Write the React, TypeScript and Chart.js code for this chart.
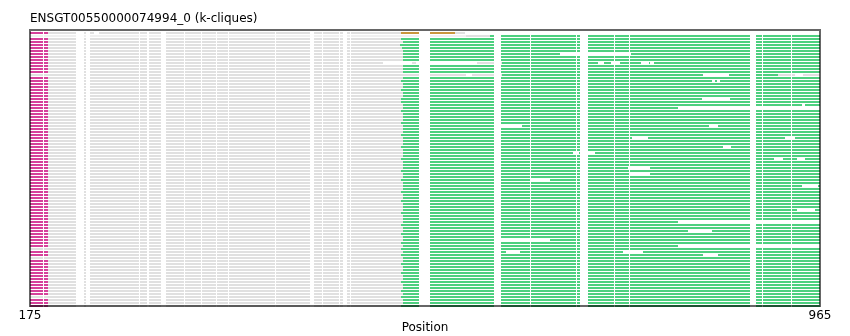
import { useEffect, useRef } from "react";
import { Chart, registerables } from "chart.js";

Chart.register(...registerables);

const TITLE = "ENSGT00550000074994_0 (k-cliques)";
const X_TITLE = "Position";
const X_MIN = 175;
const X_MAX = 965;
const X_TICKS = [175, 965];

const ROW_COUNT = 92;
const ROW_LABELS = Array.from({ length: ROW_COUNT }, (_, i) => `seq${i + 1}`);

const MAGENTA_SPAN = [175, 193];
const NO_MAGENTA_ROWS = [1, 14, 72, 75, 88];
const ORANGE_ROWS = [0];
const ORANGE_SEGS = [[0, 546, 600]];
const LIGHT_SEGS = [[1, 175, 611]];
const GREY_START_OVERRIDE = [[1, 611]];
const GREY_TAIL_SEGS = [
  [0, 600, 610],
  [14, 923, 965],
];
const GREEN_END_OVERRIDE = [
  [14, 923],
  [25, 823],
  [63, 823],
  [71, 823],
];

const GREEN_START = [
  546, 635, 546, 548, 545, 547, 548, 548, 548, 548, 647, 548, 548, 548, 647, 548,
  546, 548, 548, 546, 548, 548, 546, 546, 548, 548, 546, 548, 548, 548, 546, 548,
  548, 548, 546, 548, 548, 548, 546, 548, 548, 548, 546, 548, 548, 548, 546, 548,
  548, 546, 548, 548, 548, 546, 548, 548, 546, 548, 548, 548, 546, 548, 548, 548,
  546, 548, 548, 546, 548, 548, 546, 548, 546, 548, 546, 548, 548, 546, 548, 548,
  546, 548, 548, 546, 548, 548, 546, 548, 546, 548, 548, 546,
];

// alignment gaps shared by all rows
const COMMON_GAPS = [
  [188, 189],
  [221, 229], [231, 235], [284, 285], [292, 294], [306, 311], [329, 330],
  [346, 347], [361, 362], [373, 374], [420, 421], [455, 459], [467, 468],
  [484, 485], [488, 492], [495, 496],
  [564, 575], [639, 646], [675, 676], [721, 722], [725, 733], [759, 760],
  [774, 775], [895, 901], [907, 908], [936, 937],
];

// row-specific gaps: [row, start, end]
const ROW_GAPS = [
  [0, 239, 244],
  [7, 705, 776],
  [10, 528, 557], [10, 561, 622], [10, 743, 749], [10, 756, 765], [10, 786, 794], [10, 795, 799],
  [14, 611, 617], [14, 848, 874], [14, 940, 948],
  [16, 857, 860], [16, 862, 865],
  [22, 847, 875],
  [24, 947, 950],
  [31, 645, 667], [31, 854, 863],
  [35, 777, 793], [35, 930, 940],
  [38, 868, 876],
  [40, 718, 724], [40, 730, 740],
  [42, 919, 928], [42, 942, 950],
  [45, 773, 795],
  [47, 775, 795],
  [49, 675, 695],
  [51, 947, 963],
  [59, 942, 960],
  [66, 833, 857],
  [69, 645, 695],
  [73, 651, 665], [73, 768, 788],
  [74, 848, 863],
];

const COLORS = {
  magenta: "#d6409b",
  grey: "#e0e0e0",
  light: "#f0f0f0",
  green: "#4dd07f",
  orange: "#c9963e",
  gap: "#ffffff",
  frame: "rgba(0,0,0,0.6)",
  text: "#000000",
};

const FONT = "DejaVu Sans";

type Seg = [number, number] | null;

function perRow(fn: (r: number) => Seg): Seg[] {
  return ROW_LABELS.map((_, r) => fn(r));
}

function lookup(list: number[][], r: number): number[] | undefined {
  return list.find((e) => e[0] === r);
}

const framePlugin = {
  id: "frame",
  afterDatasetsDraw(chart: any) {
    const { ctx, chartArea } = chart;
    ctx.save();
    ctx.strokeStyle = COLORS.frame;
    ctx.lineWidth = 2;
    const top = chartArea.top - 1.5;
    const bottom = chartArea.bottom - 1.5;
    ctx.strokeRect(chartArea.left, top, chartArea.right - chartArea.left, bottom - top);
    ctx.restore();
  },
  afterDraw(chart: any) {
    const { ctx, chartArea } = chart;
    ctx.save();
    ctx.fillStyle = COLORS.text;
    ctx.font = `12px "${FONT}"`;
    ctx.textAlign = "left";
    ctx.textBaseline = "alphabetic";
    ctx.fillText(TITLE, chartArea.left, 22);
    ctx.restore();
  },
};

export default function App() {
  const ref = useRef<HTMLCanvasElement | null>(null);

  useEffect(() => {
    if (!ref.current) return;

    const common = {
      grouped: false,
      barThickness: 2,
      borderWidth: 0,
      borderSkipped: false,
      inflateAmount: 0,
    };

    const datasets: any[] = [];

    COMMON_GAPS.forEach(([a, b], i) => {
      datasets.push({
        ...common,
        label: `gap${i}`,
        data: perRow(() => [a, b]),
        backgroundColor: COLORS.gap,
        order: 0,
      });
    });

    ROW_GAPS.forEach(([row, a, b], i) => {
      datasets.push({
        ...common,
        label: `rgap${i}`,
        data: perRow((r) => (r === row ? [a, b] : null)),
        backgroundColor: COLORS.gap,
        order: 0,
      });
    });

    datasets.push({
      ...common,
      label: "magenta",
      data: perRow((r) => (NO_MAGENTA_ROWS.includes(r) ? null : [MAGENTA_SPAN[0], MAGENTA_SPAN[1]])),
      backgroundColor: COLORS.magenta,
      order: 5,
    });

    datasets.push({
      ...common,
      label: "grey",
      data: perRow((r) => {
        const o = lookup(GREY_START_OVERRIDE, r);
        const start = o ? o[1] : NO_MAGENTA_ROWS.includes(r) ? X_MIN : MAGENTA_SPAN[1];
        return [start, GREEN_START[r]];
      }),
      backgroundColor: COLORS.grey,
      order: 5,
    });

    datasets.push({
      ...common,
      label: "light",
      data: perRow((r) => {
        const s = lookup(LIGHT_SEGS, r);
        return s ? [s[1], s[2]] : null;
      }),
      backgroundColor: COLORS.light,
      order: 5,
    });

    datasets.push({
      ...common,
      label: "green",
      data: perRow((r) => {
        if (ORANGE_ROWS.includes(r)) return null;
        const o = lookup(GREEN_END_OVERRIDE, r);
        return [GREEN_START[r], o ? o[1] : X_MAX];
      }),
      backgroundColor: COLORS.green,
      order: 5,
    });

    datasets.push({
      ...common,
      label: "orange",
      data: perRow((r) => {
        const s = lookup(ORANGE_SEGS, r);
        return s ? [s[1], s[2]] : null;
      }),
      backgroundColor: COLORS.orange,
      order: 5,
    });

    datasets.push({
      ...common,
      label: "greyTail",
      data: perRow((r) => {
        const s = lookup(GREY_TAIL_SEGS, r);
        return s ? [s[1], s[2]] : null;
      }),
      backgroundColor: COLORS.grey,
      order: 5,
    });

    const chart = new Chart(ref.current, {
      type: "bar",
      data: { labels: ROW_LABELS, datasets },
      plugins: [framePlugin],
      options: {
        indexAxis: "y",
        responsive: false,
        animation: false,
        devicePixelRatio: 1,
        layout: { padding: { top: 31.5, left: 30, right: 30, bottom: 0 } },
        plugins: {
          legend: { display: false },
          tooltip: { enabled: false },
          title: { display: false },
        },
        scales: {
          y: {
            type: "category",
            display: false,
            offset: true,
          },
          x: {
            type: "linear",
            min: X_MIN,
            max: X_MAX,
            grid: { display: false, drawTicks: false },
            border: { display: false },
            afterBuildTicks: (axis: any) => {
              axis.ticks = X_TICKS.map((v) => ({ value: v }));
            },
            afterFit: (axis: any) => {
              axis.height = 28.5;
            },
            ticks: {
              padding: 1,
              color: COLORS.text,
              font: { family: FONT, size: 12 },
              autoSkip: false,
              maxRotation: 0,
              callback: (v: any) => String(v),
            },
            title: {
              display: true,
              text: X_TITLE,
              color: COLORS.text,
              font: { family: FONT, size: 12 },
              padding: { top: 0, bottom: 1 },
            },
          },
        },
      },
    });

    return () => chart.destroy();
  }, []);

  return (
    <div style={{ position: "absolute", left: 0, top: 0, width: 850, height: 336 }}>
      <canvas ref={ref} width={850} height={336} style={{ display: "block" }} />
    </div>
  );
}
